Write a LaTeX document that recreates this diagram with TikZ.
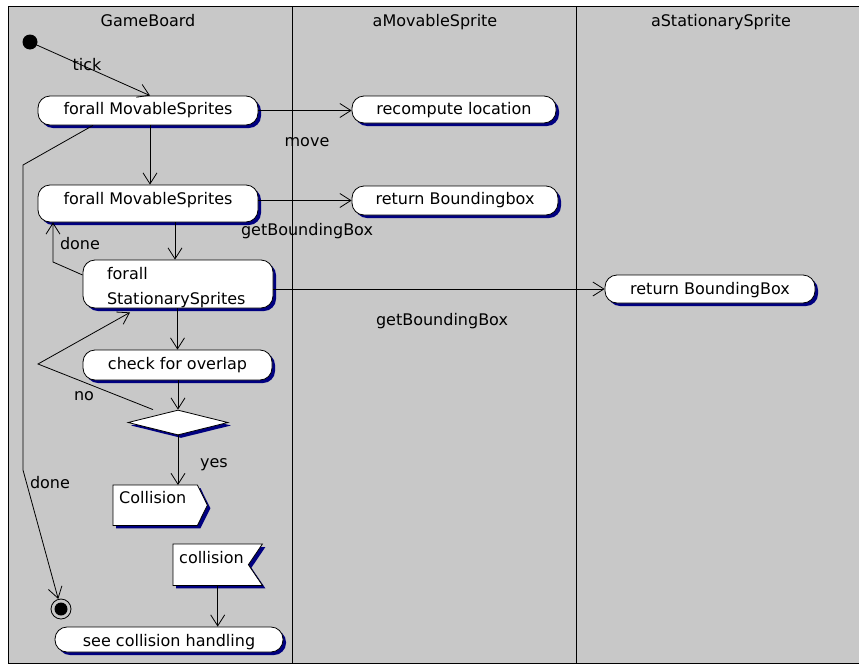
\documentclass[tikz,border=0pt]{standalone}
\usepackage{fontspec}
\setmainfont{DejaVu Sans}
\usetikzlibrary{arrows.meta,shapes.geometric,shadows,calc,backgrounds}
\definecolor{lanebg}{RGB}{200,200,200}
\definecolor{navyc}{RGB}{0,0,128}
\newcommand{\dfont}{\fontsize{16}{19}\selectfont}
\begin{document}
\begin{tikzpicture}[x=1pt,y=-1pt,
  every node/.style={font=\dfont, inner sep=0pt},
  sh/.style={drop shadow={shadow xshift=3pt, shadow yshift=-3pt, fill=navyc, opacity=1}},
  act/.style={draw=black, line width=0.8pt, fill=white, rounded corners=12pt, sh},
  arr/.style={line width=0.8pt, -{Straight Barb[length=11pt,width=14pt]}},
  ln/.style={line width=0.8pt},
  lbl/.style={anchor=base}]
\useasboundingbox (0,0) rectangle (859,664);
% swimlanes
\begin{scope}[on background layer]
  \fill[lanebg] (8,6) rectangle (859,663);
  \draw[ln] (8,663) -- (8,6) -- (859,6);
  \draw[ln] (8,663) -- (859,663);
  \draw[ln] (292,6) -- (292,663);
  \draw[ln] (576,6) -- (576,663);
\end{scope}
\node[lbl] (h1) at (148,26) {GameBoard};
\node[lbl] (h2) at (435,26) {aMovableSprite};
\node[lbl] (h3) at (721,26) {aStationarySprite};

% nodes
\node[circle, fill=black, minimum size=15pt] (start) at (30,42) {};
\node[act, minimum width=220pt, text height=18pt, text depth=11pt] (A1) at (148,110.5) {forall MovableSprites};
\node[act, minimum width=204pt, text height=18pt, text depth=9pt] (rc) at (454,109.5) {recompute location};
\node[act, minimum width=220pt, text height=19pt, text depth=18pt] (A2) at (148,203.5) {forall MovableSprites};
\node[act, minimum width=206pt, text height=18pt, text depth=11pt] (rb) at (455,200.5) {return Boundingbox};
\node[act, text width=142pt, inner xsep=24pt, align=left, text height=19pt, text depth=29pt,
      font=\fontsize{16}{25}\selectfont] (A3) at (178,284) {forall\\StationarySprites};
\node[act, minimum width=210pt, text height=19pt, text depth=9pt] (rbs) at (710,289) {return BoundingBox};
\node[act, minimum width=189pt, text height=19pt, text depth=11pt] (check) at (177.5,365) {check for overlap};
\node[diamond, draw=black, line width=0.8pt, fill=white, sh, minimum width=100pt, minimum height=25pt] (dia) at (178,422.5) {};
\node[anchor=north west, text width=72pt, inner xsep=6pt, align=left, text height=18pt, text depth=22pt] (col) at (113,485) {Collision};
\node[anchor=north west, text width=77pt, inner xsep=6pt, align=left, text height=19pt, text depth=22pt] (rcv) at (173,544) {collision};
\node[act, minimum width=228pt, text height=19pt, text depth=6pt] (see) at (169,639.5) {see collision handling};
\node[circle, draw=black, line width=0.8pt, minimum size=20pt] (fin) at (61,609) {};
\fill (fin.center) circle (6.5pt);

% signal shapes
\begin{scope}[on background layer]
  \draw[ln, fill=white, sh] (col.north west) -- (col.north east) -- ($(col.east)+(10,0)$) -- (col.south east) -- (col.south west) -- cycle;
  \draw[ln, fill=white, sh] (rcv.north west) -- (rcv.north east) -- ($(rcv.east)+(-14,0)$) -- (rcv.south east) -- (rcv.south west) -- cycle;
\end{scope}

% connectors
\coordinate (d1) at (23,165);
\coordinate (d2) at (23,470);
\coordinate (dn1) at (53,262);
\coordinate (no1) at (38,364);
\draw[arr] (start) -- ([xshift=2pt]A1.north);
\draw[arr] (A1.east) -- (A1.east -| rc.west);
\draw[arr] ([xshift=2pt]A1.south) -- ([xshift=2pt]A1.south |- A2.north);
\draw[arr] (rb.west -| A2.east) -- (rb.west);
\draw[arr] ([xshift=-3pt]A3.north |- A2.south) -- ([xshift=-3pt]A3.north);
\draw[arr] (rbs.west -| A3.east) -- (rbs.west);
\draw[arr] ([yshift=9pt]A3.west) -- (dn1) -- (dn1 |- A2.south);
\draw[arr] (check.north |- A3.south) -- (check.north);
\draw[arr] (dia.north |- check.south) -- (dia.north);
\draw[arr] ([xshift=-25pt]dia.north) -- (no1) -- ([xshift=-48pt,yshift=-4pt]A3.south);
\draw[arr] (dia.south) -- (dia.south |- col.north);
\draw[arr] (rcv.south) -- (rcv.south |- see.north);
\draw[arr] ([xshift=-55pt]A1.south) -- (d1) -- (d2) -- (fin);

% labels
\node[lbl] (ltick) at (87,70) {tick};
\node[lbl] (lmove) at (307,146) {move};
\node[lbl] (lgb1) at (307,235) {getBoundingBox};
\node[lbl] (ldone1) at (80,249) {done};
\node[lbl] (lgb2) at (442,325) {getBoundingBox};
\node[lbl] (lno) at (84,400) {no};
\node[lbl] (lyes) at (214,467) {yes};
\node[lbl] (ldone2) at (50,488) {done};
\end{tikzpicture}
\end{document}
